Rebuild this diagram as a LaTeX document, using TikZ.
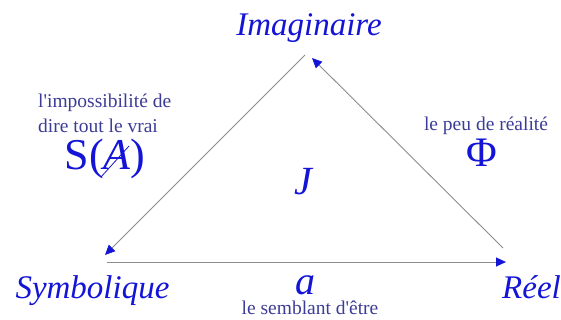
\documentclass[tikz,border=0pt]{standalone}
\usepackage{fontspec}
\setmainfont{Liberation Serif}[Ligatures=TeXOff]
\usetikzlibrary{arrows.meta}
\definecolor{mainblue}{RGB}{20,20,215}
\definecolor{smallblue}{RGB}{60,60,150}
\definecolor{linegray}{RGB}{140,140,140}
\tikzset{
  big/.style={text=mainblue, font=\fontsize{33}{38}\selectfont\itshape, inner sep=0pt, anchor=base},
  huge/.style={text=mainblue, font=\fontsize{44}{50}\selectfont, inner sep=0pt, anchor=base},
  small/.style={text=smallblue, font=\fontsize{19.5}{24}\selectfont, inner sep=0pt, anchor=base},
  conn/.style={draw=linegray, line width=0.9pt, -{Triangle[length=10pt,width=9pt,fill=mainblue,color=mainblue]}},
}
\begin{document}
\begin{tikzpicture}[x=1pt,y=-1pt]
\useasboundingbox (0,0) rectangle (561,320);
% endpoints
\coordinate (topL) at (305,55);
\coordinate (botL) at (105,255);
\coordinate (rtR) at (503,248);
\coordinate (topR) at (312,58);
\coordinate (bL) at (107,262);
\coordinate (bR) at (506,262);
\draw[conn] (topL) -- (botL);
\draw[conn] (rtR) -- (topR);
\draw[conn] (bL) -- (bR);
% labels
\node[big] (imag) at (309,36) {Imaginaire};
\node[big] (symb) at (92.5,298) {Symbolique};
\node[big] (reel) at (531.5,298) {Réel};
\node[big, font=\fontsize{40}{46}\selectfont\itshape] (J) at (303,195) {J};
\node[big, font=\fontsize{40}{46}\selectfont\itshape] (a) at (305,294) {a};
\node[small, anchor=base west] (imp1) at (38,108) {l'impossibilité de};
\node[small, anchor=base west] (imp2) at (38,133) {dire tout le vrai};
\node[huge] (SA) at (105,170) {S(\textit{A})};
\draw[mainblue, line width=0.8pt] (101,177) -- (129,146);
\node[small] (peu) at (486,131) {le peu de réalité};
\node[huge, font=\fontsize{42}{48}\selectfont] (phi) at (482,167) {Φ};
\node[small] (semb) at (310,314) {le semblant d'être};
\end{tikzpicture}
\end{document}
